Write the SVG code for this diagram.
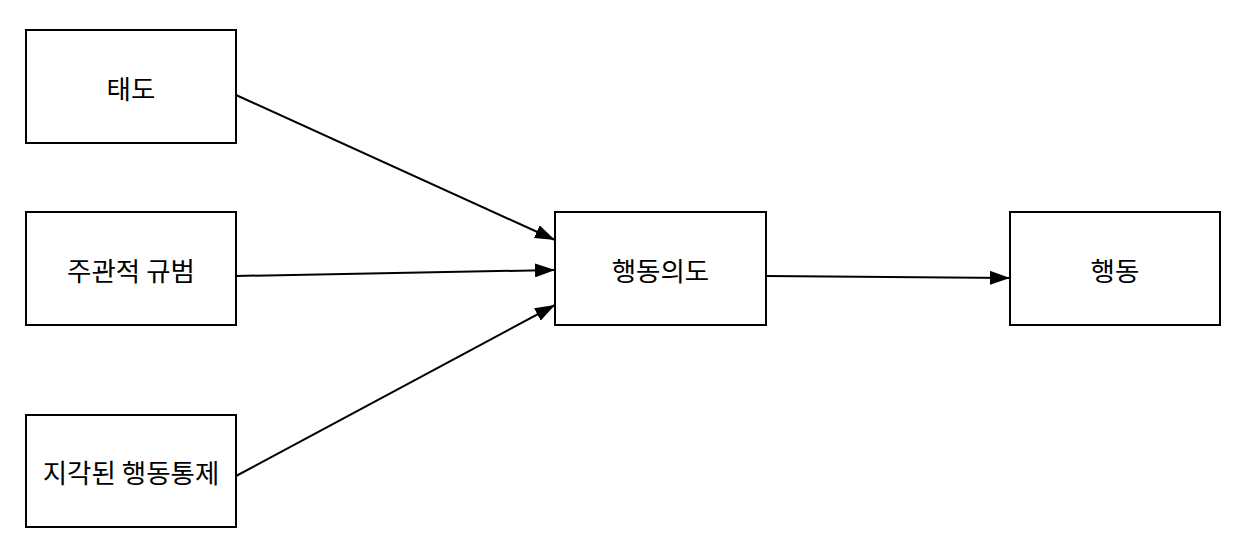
<svg xmlns="http://www.w3.org/2000/svg" width="1256" height="545" viewBox="0 0 1256 545">
<style>
.box{fill:#fff;stroke:#000;stroke-width:2}
.lbl{font-family:"Noto Sans CJK KR","Noto Sans",sans-serif;font-size:26.5px;fill:#000;text-anchor:middle;dominant-baseline:central}
.edge{stroke:#000;stroke-width:2;fill:none;marker-end:url(#ah)}
</style>
<defs>
<marker id="ah" viewBox="0 0 20 14" refX="20" refY="7" markerWidth="20" markerHeight="14" markerUnits="userSpaceOnUse" orient="auto">
<path d="M0,0 L20,7 L0,14 Z" fill="#000"/>
</marker>
</defs>
<rect width="1256" height="545" fill="#fff"/>
<g id="connectors">
<line class="edge" x1="236" y1="95" x2="555" y2="240"/>
<line class="edge" x1="236" y1="276" x2="555" y2="270"/>
<line class="edge" x1="236" y1="476" x2="555" y2="305"/>
<line class="edge" x1="766" y1="276" x2="1010" y2="278"/>
</g>
<g id="n1"><rect class="box" x="26" y="30" width="210" height="113"/><text class="lbl" x="131" y="87">태도</text></g>
<g id="n2"><rect class="box" x="26" y="212" width="210" height="113"/><text class="lbl" x="131" y="269">주관적 규범</text></g>
<g id="n3"><rect class="box" x="26" y="415" width="210" height="112"/><text class="lbl" x="131" y="471">지각된 행동통제</text></g>
<g id="n4"><rect class="box" x="555" y="212" width="211" height="113"/><text class="lbl" x="660.5" y="269">행동의도</text></g>
<g id="n5"><rect class="box" x="1010" y="212" width="210" height="113"/><text class="lbl" x="1115" y="269">행동</text></g>
</svg>
